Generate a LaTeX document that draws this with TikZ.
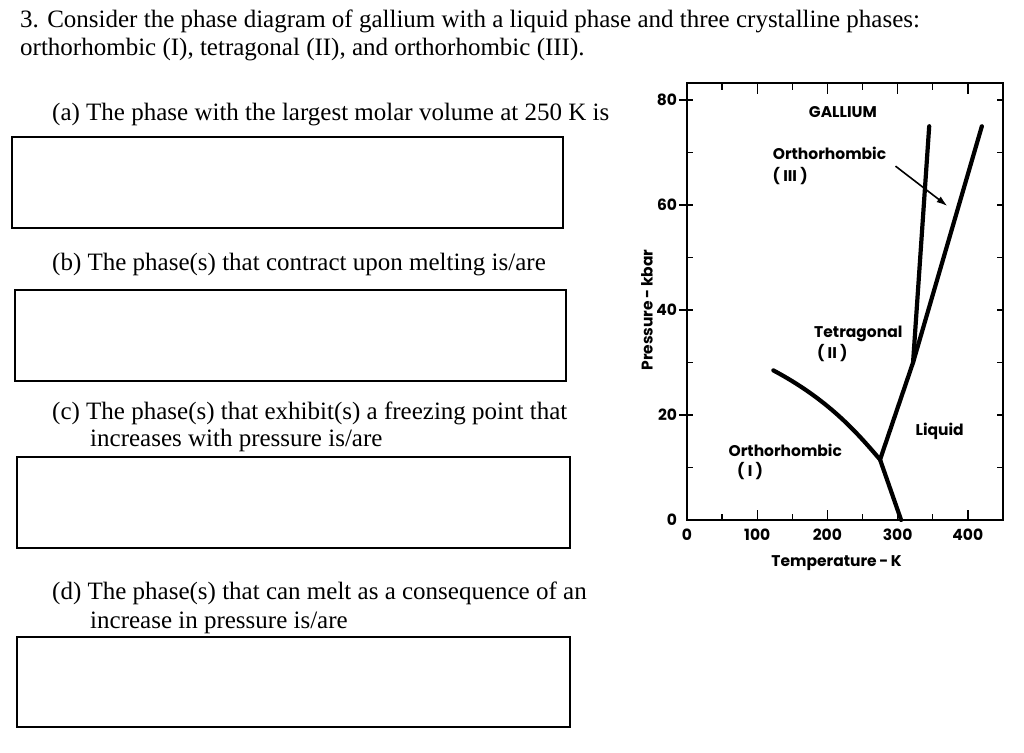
\documentclass[tikz,border=0pt]{standalone}
\usepackage{fontspec}
\usetikzlibrary{arrows.meta}
\setmainfont{Liberation Serif}
\newfontfamily\plotfont{Poppins}
\begin{document}
\begin{tikzpicture}[x=1pt,y=-1pt,
  q/.style={anchor=base west,inner sep=0pt,font=\fontsize{25}{30}\selectfont},
  ansbox/.style={draw,line width=1.2pt},
  lab/.style={font=\plotfont\fontsize{15.5}{17}\selectfont\bfseries,inner sep=0pt},
  num/.style={font=\plotfont\fontsize{15.5}{17}\selectfont\bfseries,inner sep=0pt},
  curve/.style={line width=4.2pt,line cap=round}]
\useasboundingbox (0,0) rectangle (1024,752);
\node[q] (t1) at (20,28) {3. Consider the phase diagram of gallium with a liquid phase and three crystalline phases:};
\node[q] (t2) at (20,56) {orthorhombic (I), tetragonal (II), and orthorhombic (III).};
\node[q] (qa) at (52,120) {(a) The phase with the largest molar volume at 250 K is};
\draw[ansbox] (12,137) rectangle (563,228);
\node[q] (qb) at (52,270) {(b) The phase(s) that contract upon melting is/are};
\draw[ansbox] (15,290) rectangle (566,381);
\node[q] (qc) at (52,419) {(c) The phase(s) that exhibit(s) a freezing point that};
\node[q] (qc2) at (90,446) {increases with pressure is/are};
\draw[ansbox] (17,457) rectangle (570,548);
\node[q] (qd) at (52,599) {(d) The phase(s) that can melt as a consequence of an};
\node[q] (qd2) at (90,628) {increase in pressure is/are};
\draw[ansbox] (17,637) rectangle (570,727);
% plot
\begin{scope}[shift={(687pt,-520pt)},x=0.702pt,y=5.25pt]
\draw[line width=1.5pt] (0,0) rectangle (450,83.2);
\foreach \t in {50,100,...,400}{
  \pgfmathsetmacro\L{mod(\t,100)==0?2.0:1.2}
  \draw[line width=1.4pt] (\t,0) -- ++(0,\L);
  \draw[line width=1.4pt] (\t,83.2) -- ++(0,-\L);}
\foreach \p in {10,20,...,80}{
  \draw[line width=1.4pt] (0,\p) -- ++(9,0);
  \draw[line width=1.4pt] (450,\p) -- ++(-9,0);}
\foreach \p in {20,40,60,80}{
  \draw[line width=1.4pt] (0,\p) -- ++(-12,0);}
\foreach \p in {0,20,40,60,80}{\node[num,anchor=east] (ly\p) at (-14,\p) {\p};}
\foreach \t in {0,100,200,300,400}{\node[num,anchor=north] (lx\t) at (\t,-1.6) {\t};}
\node[num] (xt) at (213,-8.3) {Temperature\,-\,K};
\node[num,rotate=90] (yt) at (-57,40) {Pressure\,-\,kbar};
\coordinate (tp1) at (275,11.5);
\coordinate (tp2) at (322,30);
\draw[curve] (123,28.5) .. controls (200,23) and (240,17) .. (tp1);
\draw[curve] (tp1) -- (305,0);
\draw[curve] (tp1) -- (tp2) -- (420,75);
\draw[curve] (tp2) -- (345,75);
\node[lab] (g) at (222,77.7) {GALLIUM};
\node[lab] (o3) at (203,69.8) {Orthorhombic};
\node[lab] (o3b) at (147,65.5) {( III )};
\node[lab] (te) at (244,35.5) {Tetragonal};
\node[lab] (teb) at (207,31.8) {( II )};
\node[lab] (li) at (360,16.8) {Liquid};
\node[lab] (o1) at (140,13.3) {Orthorhombic};
\node[lab] (o1b) at (90,9.4) {( I )};
\coordinate (ah) at (371,59.8);
\draw[line width=1.6pt,-{Latex[length=11pt,width=7pt]}] (297,67.4) -- (ah);
\end{scope}
\end{tikzpicture}
\end{document}
